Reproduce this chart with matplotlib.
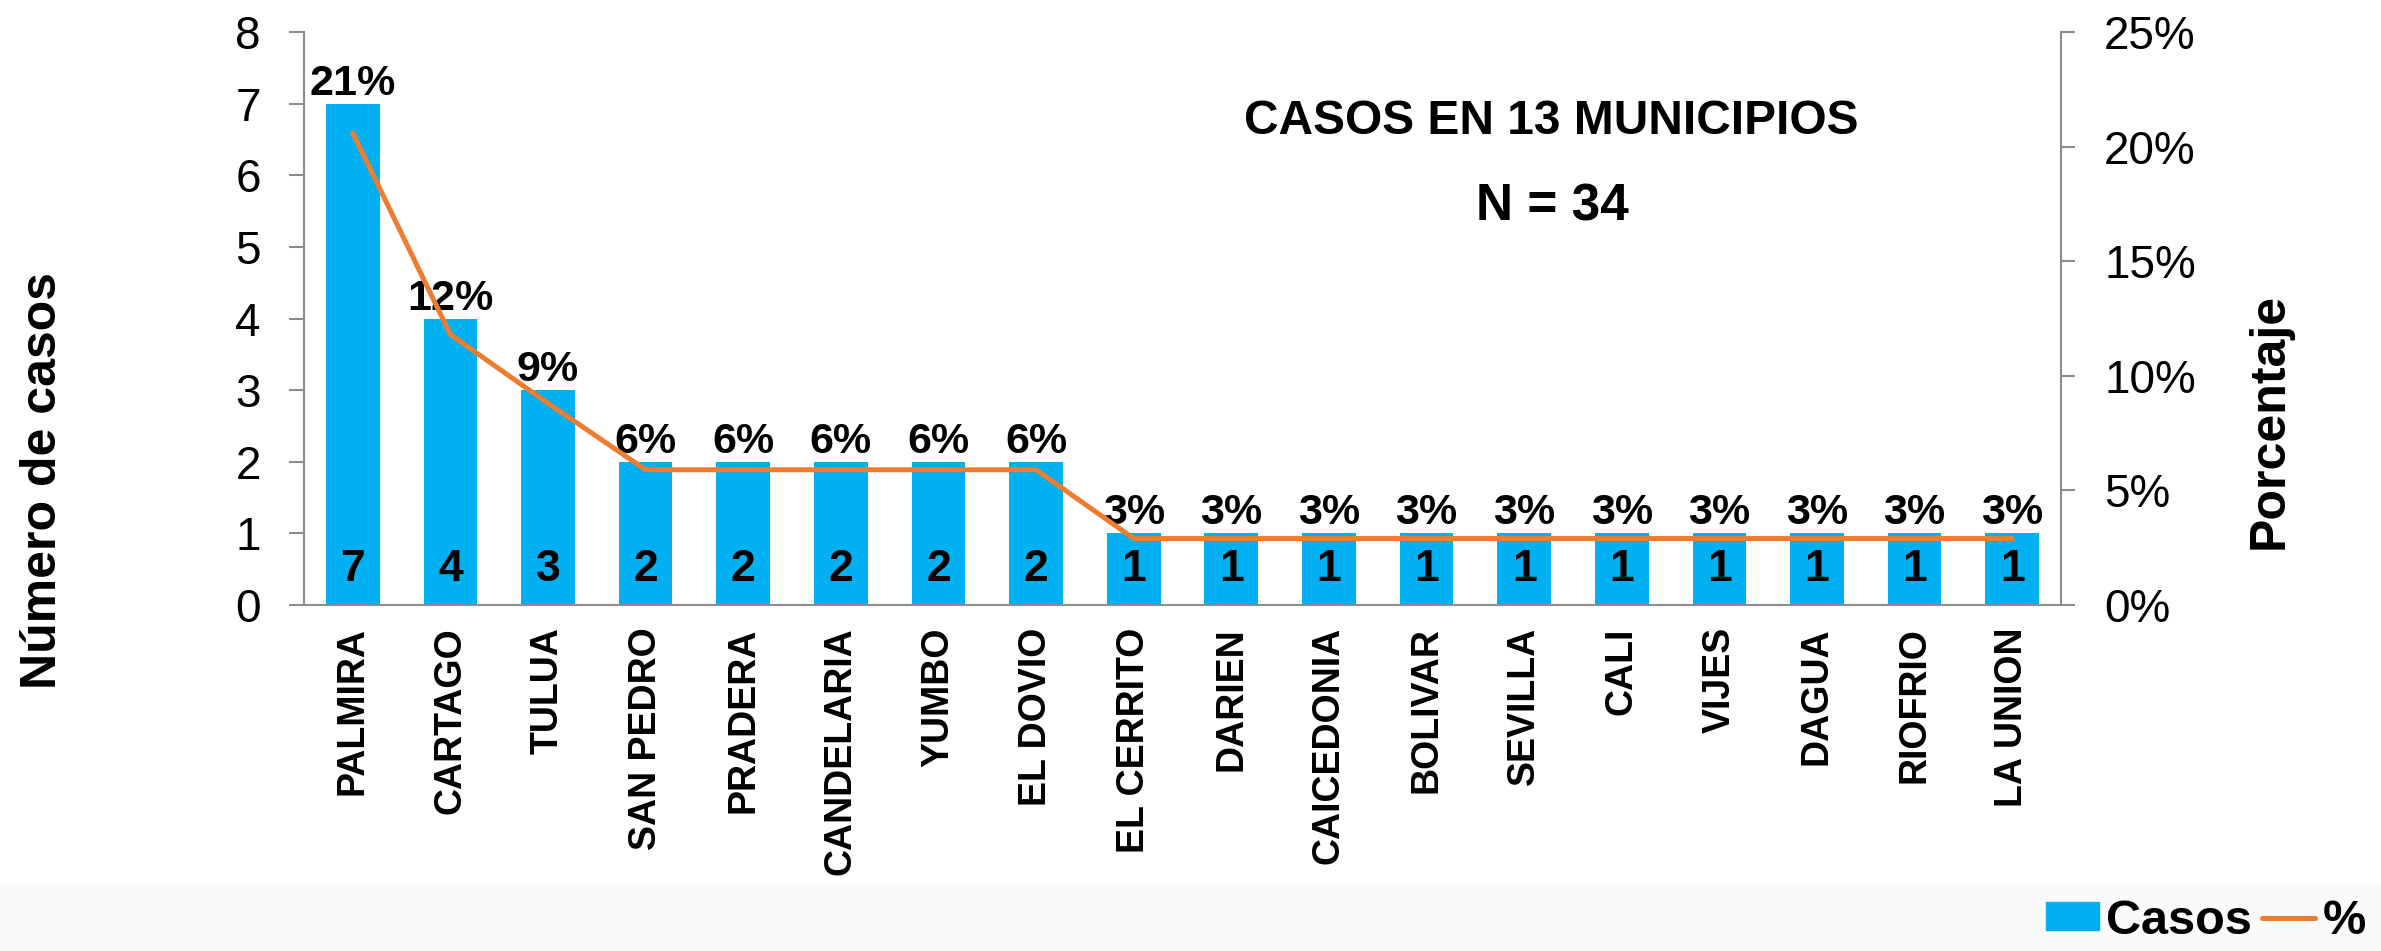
import matplotlib
matplotlib.use('Agg')
import matplotlib.pyplot as plt
from matplotlib.patches import Patch, Rectangle
from matplotlib.lines import Line2D
from matplotlib import font_manager

# data
municipios = ['PALMIRA', 'CARTAGO', 'TULUA', 'SAN PEDRO', 'PRADERA', 'CANDELARIA',
              'YUMBO', 'EL DOVIO', 'EL CERRITO', 'DARIEN', 'CAICEDONIA', 'BOLIVAR',
              'SEVILLA', 'CALI', 'VIJES', 'DAGUA', 'RIOFRIO', 'LA UNION']
casos = [7, 4, 3, 2, 2, 2, 2, 2, 1, 1, 1, 1, 1, 1, 1, 1, 1, 1]
porcentaje = [20.6, 11.8, 8.8, 5.9, 5.9, 5.9, 5.9, 5.9, 2.9, 2.9, 2.9, 2.9, 2.9,
              2.9, 2.9, 2.9, 2.9, 2.9]
y_ticks = [0, 1, 2, 3, 4, 5, 6, 7, 8]
y2_ticks = [0, 5, 10, 15, 20, 25]

BLUE = '#00B0F0'
ORANGE = '#ED7D31'
GRAY = '#8C8C8C'

plt.rcParams['font.family'] = ['Liberation Sans', 'DejaVu Sans']
names = {f.name for f in font_manager.fontManager.ttflist}
narrow = 'Liberation Sans Narrow' in names

W, H = 2381, 951
fig = plt.figure(figsize=(W / 100, H / 100), dpi=100)
fig.patches.append(Rectangle((0, 0), 1, 1 - 884 / H, transform=fig.transFigure,
                             color='#FAFAFA', zorder=-10))

ax = fig.add_axes([304 / W, 1 - 605 / H, (2061 - 304) / W, (605 - 32) / H])
ax2 = ax.twinx()

x = list(range(len(casos)))
ax.bar(x, casos, width=0.55, color=BLUE, zorder=2)
ax.set_xlim(-0.5, len(casos) - 0.5)
ax.set_ylim(0, 8)
ax.set_yticks(y_ticks)
ax.set_xticks(x)
ax.set_xticklabels(municipios, rotation=90, fontsize=27, fontweight='bold')
ax.tick_params(axis='x', length=0, pad=16)
ax.tick_params(axis='y', labelsize=33, length=11, width=1.5, color=GRAY, pad=20)

# value labels: count inside the bar, share on top of it
for i, c in enumerate(casos):
    ax.text(i, 0.5, str(c), ha='center', va='center', fontsize=32,
            fontweight='bold', zorder=4)
    ax.text(i, c, '%d%%' % round(porcentaje[i]), ha='center', va='bottom',
            fontsize=31, fontweight='bold', zorder=4)

ax2.plot(x, porcentaje, color=ORANGE, lw=3.6, solid_capstyle='round', zorder=3)
ax2.set_ylim(0, 25)
ax2.set_yticks(y2_ticks)
ax2.set_yticklabels(['%d%%' % v for v in y2_ticks])
ax2.tick_params(axis='y', labelsize=33, length=10, width=1.5, color=GRAY, pad=21)

for a in (ax, ax2):
    a.spines['top'].set_visible(False)
    for s in ('left', 'right', 'bottom'):
        a.spines[s].set_color(GRAY)
        a.spines[s].set_linewidth(1.5)
ax.spines['right'].set_visible(False)
ax2.spines['left'].set_visible(False)
ax2.spines['bottom'].set_visible(False)

fig.text(43 / W, 1 - 481 / H, 'Número de casos', rotation=90, ha='center',
         va='center', fontsize=36, fontweight='bold')
fig.text(2270 / W, 1 - 421 / H, 'Porcentaje', rotation=90, ha='center',
         va='center', fontsize=36, fontweight='bold')

if narrow:
    tfam, tsize, nsize = ['Liberation Sans Narrow', 'Liberation Sans'], 37, 39
else:
    tfam, tsize, nsize = ['Liberation Sans'], 34.5, 37
fig.text(1551 / W, 1 - 121 / H, 'CASOS EN 13 MUNICIPIOS', ha='center', va='center',
         fontsize=tsize, fontweight='bold', family=tfam)
fig.text(1552 / W, 1 - 207 / H, 'N = 34', ha='center', va='center',
         fontsize=nsize, fontweight='bold', family=tfam)

handles = [Patch(color=BLUE), Line2D([0], [0], color=ORANGE, lw=3.6, solid_capstyle='round')]
leg = fig.legend(handles, ['Casos', '%'], ncol=2, loc='center right',
                 bbox_to_anchor=(2366 / W, 1 - 921 / H), frameon=False,
                 prop={'size': 35, 'weight': 'bold'}, handlelength=1.1,
                 handleheight=0.5, handletextpad=0.15, columnspacing=0.2,
                 borderpad=0, borderaxespad=0)

fig.savefig('out.png', dpi=100)
